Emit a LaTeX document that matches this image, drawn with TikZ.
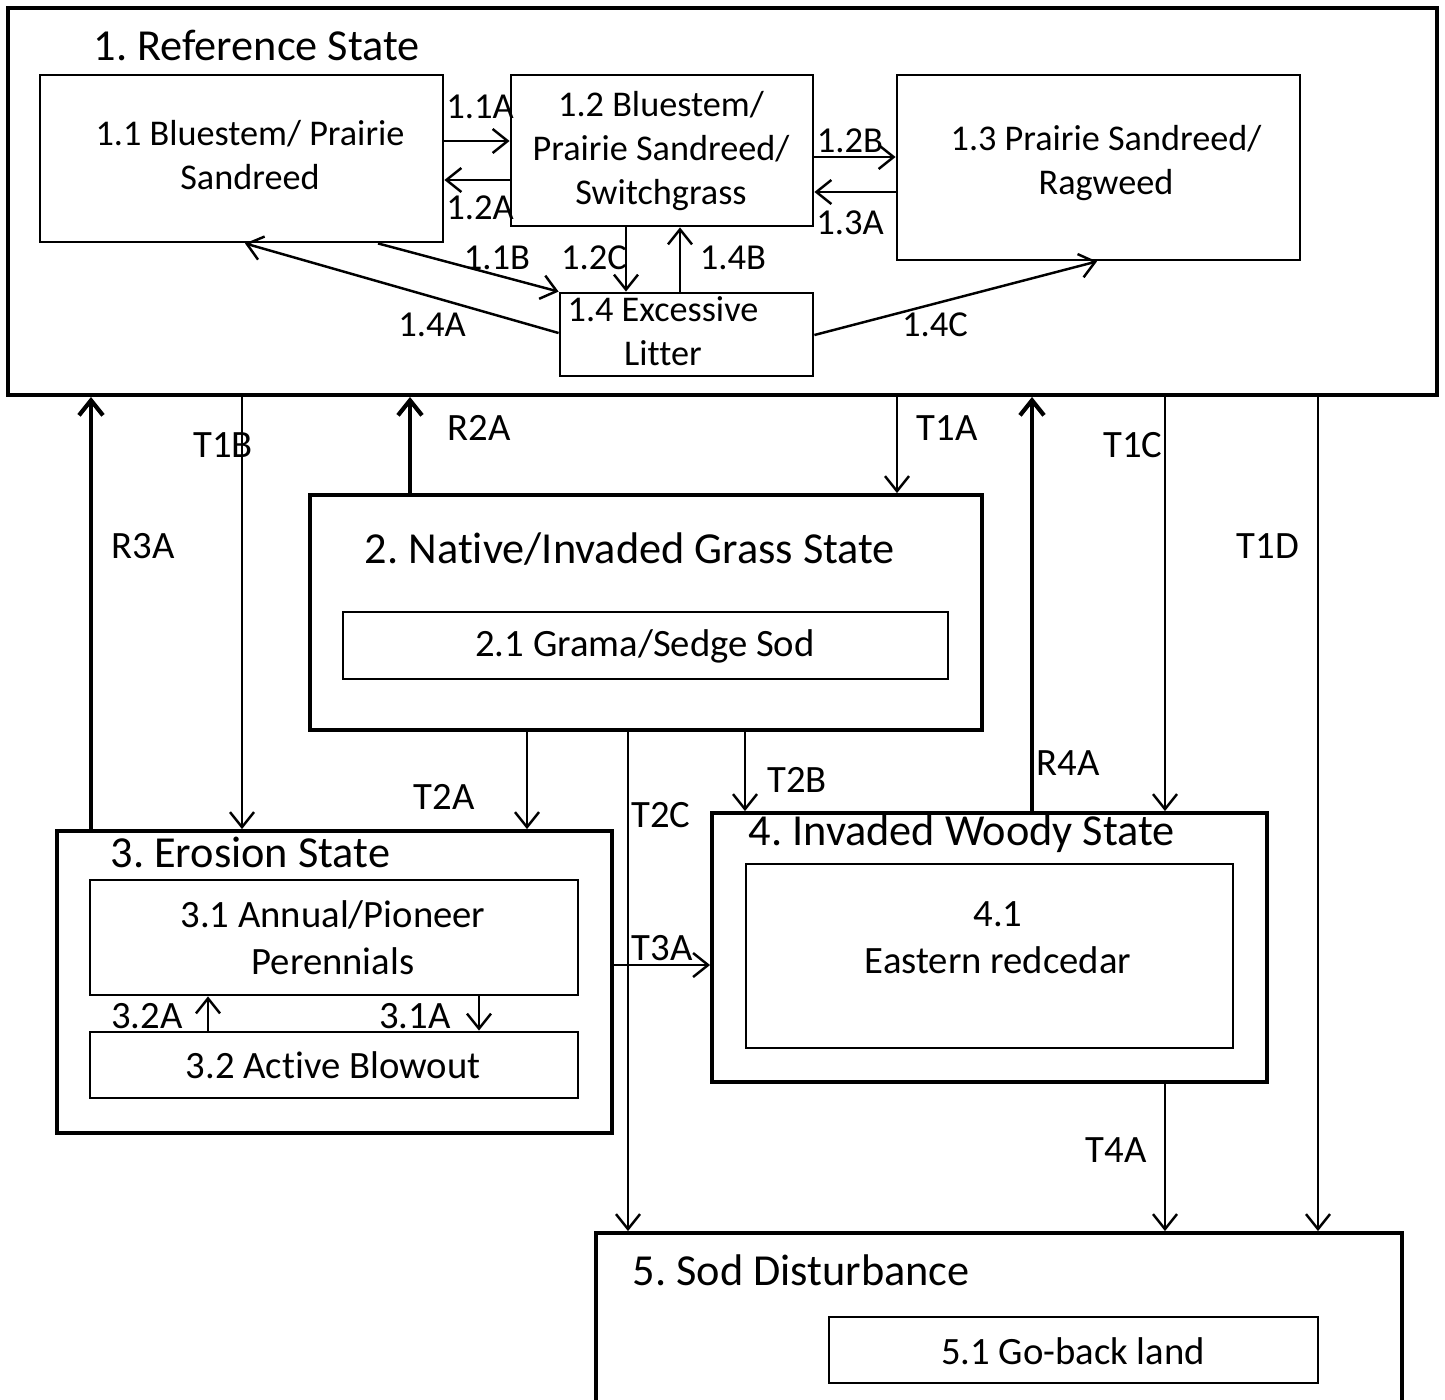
\documentclass[tikz,border=0pt]{standalone}
\usepackage{fontspec}
\setmainfont{Carlito}[Ligatures={CommonOff,ContextualOff}]
\frenchspacing
\usetikzlibrary{positioning,arrows.meta,fit}

\tikzset{
  statebox/.style={draw, line width=1.1pt, inner sep=0pt},
  subbox/.style={draw, line width=0.8pt, inner sep=0pt},
  boxtext/.style={inner sep=0pt, align=center, font=\fontsize{10.3}{12.5}\selectfont},
  bigtext/.style={boxtext, font=\fontsize{11}{13.3}\selectfont},
  title/.style={anchor=west, inner sep=0pt, font=\fontsize{12.6}{15}\selectfont},
  lbl/.style={inner sep=0pt, font=\fontsize{10.4}{12}\selectfont},
  tlbl/.style={inner sep=0pt, font=\fontsize{11}{13}\selectfont},
  arr/.style={-{Straight Barb[length=1.5mm,width=2.4mm]}, line width=0.7pt},
  rarr/.style={arr, line width=1.2pt},
}

\begin{document}
\begin{tikzpicture}[x=0.01cm,y=-0.01cm]
  \useasboundingbox (0,0) rectangle (1445,1399);

  % 1. Reference State
  \node[statebox, fit={(8,8) (1437,395)}] (s1) {};
  \node[title] (s1t) at (93,45) {1. Reference State};
  \node[subbox, fit={(40,75) (443,242)}] (b11) {};
  \node[subbox, fit={(511,75) (813,226)}] (b12) {};
  \node[subbox, fit={(897,75) (1300,260)}] (b13) {};
  \node[subbox, fit={(560,293) (813,376)}] (b14) {};
  \node[boxtext] (t11) at (250,155) {1.1 Bluestem/ Prairie\\Sandreed};
  \node[boxtext] (t12) at (661,151) {1.2 Bluestem/\\Prairie Sandreed/\\Switchgrass};
  \node[boxtext] (t13) at (1106,163) {1.3 Prairie Sandreed/\\Ragweed};
  \node[boxtext] (t14) at (663,331) {1.4 Excessive\\Litter};

  \draw[arr] (b11.east |- 0,141) -- (b12.west |- 0,141);
  \draw[arr] (b12.west |- 0,180) -- (b11.east |- 0,180);
  \draw[arr] (b12.east |- 0,157) -- (b13.west |- 0,157);
  \draw[arr] (b13.west |- 0,192) -- (b12.east |- 0,192);
  \draw[arr] (b11.south -| 378,0) -- (b14.north west);
  \draw[arr] (b14.west |- 0,333) -- (b11.south -| 245,0);
  \draw[arr] (b12.south -| 626,0) -- (b14.north -| 626,0);
  \draw[arr] (b14.north -| 680,0) -- (b12.south -| 680,0);
  \draw[arr] (b14.east |- 0,335) -- (b13.south -| 1097,0);

  % 2. - 5.
  \node[statebox, fit={(310,495) (982,730)}] (s2) {};
  \node[title, anchor=center] (s2t) at (630,549) {2. Native/Invaded Grass State};
  \node[subbox, fit={(343,612) (948,679)}] (b21) {};
  \node[bigtext] (t21) at (645,646) {2.1 Grama/Sedge Sod};

  \node[statebox, fit={(57,831) (612,1133)}] (s3) {};
  \node[title] (s3t) at (110,852) {3. Erosion State};
  \node[subbox, fit={(90,880) (578,995)}] (b31) {};
  \node[subbox, fit={(90,1032) (578,1098)}] (b32) {};
  \node[bigtext] (t31) at (333,938) {3.1 Annual/Pioneer\\Perennials};
  \node[bigtext] (t32) at (333,1065) {3.2 Active Blowout};

  \node[statebox, fit={(712,813) (1267,1082)}] (s4) {};
  \node[title] (s4t) at (748,834) {4. Invaded Woody State};
  \node[subbox, fit={(746,864) (1233,1048)}] (b41) {};
  \node[bigtext] (t41) at (998,938) {4.1\\Eastern redcedar};

  \node[statebox, fit={(596,1233) (1402,1420)}] (s5) {};
  \node[title] (s5t) at (632,1270) {5. Sod Disturbance};
  \node[subbox, fit={(829,1317) (1318,1383)}] (b51) {};
  \node[bigtext] (t51) at (1073,1351) {5.1 Go-back land};

  \draw[rarr] (s3.north -| 91,0) -- (s1.south -| 91,0);
  \draw[arr] (s1.south -| 242,0) -- (s3.north -| 242,0);
  \draw[rarr] (s2.north -| 410,0) -- (s1.south -| 410,0);
  \draw[arr] (s1.south -| 897,0) -- (s2.north -| 897,0);
  \draw[rarr] (s4.north -| 1032,0) -- (s1.south -| 1032,0);
  \draw[arr] (s1.south -| 1165,0) -- (s4.north -| 1165,0);
  \draw[arr] (s1.south -| 1318,0) -- (s5.north -| 1318,0);
  \draw[arr] (s2.south -| 527,0) -- (s3.north -| 527,0);
  \draw[arr] (s2.south -| 628,0) -- (s5.north -| 628,0);
  \draw[arr] (s2.south -| 745,0) -- (s4.north -| 745,0);
  \draw[arr] (s3.east |- 0,965) -- (s4.west |- 0,965);
  \draw[arr] (s4.south -| 1165,0) -- (s5.north -| 1165,0);
  \draw[arr] (b32.north -| 208,0) -- (b31.south -| 208,0);
  \draw[arr] (b31.south -| 479,0) -- (b32.north -| 479,0);

  \foreach \id/\txt/\x/\y in {a11/1.1A/480/107, a12/1.2A/480/208, b12/1.2B/850/141,
      a13/1.3A/850/223, b11/1.1B/497/258, c12/1.2C/594/258, b14/1.4B/733/258,
      a14/1.4A/432/325, c14/1.4C/935/325}
    \node[lbl] (l\id) at (\x,\y) {\txt};
  \foreach \txt/\x/\y in {R3A/143/546, T1B/223/445, R2A/479/428, T1A/947/428,
      R4A/1068/763, T1C/1133/445, T1D/1268/546, T2A/444/797, T2C/661/815,
      T2B/797/780, T3A/662/948, T4A/1116/1150, 3.2A/147/1016, 3.1A/415/1016}
    \node[tlbl] (l\txt) at (\x,\y) {\txt};
\end{tikzpicture}
\end{document}
